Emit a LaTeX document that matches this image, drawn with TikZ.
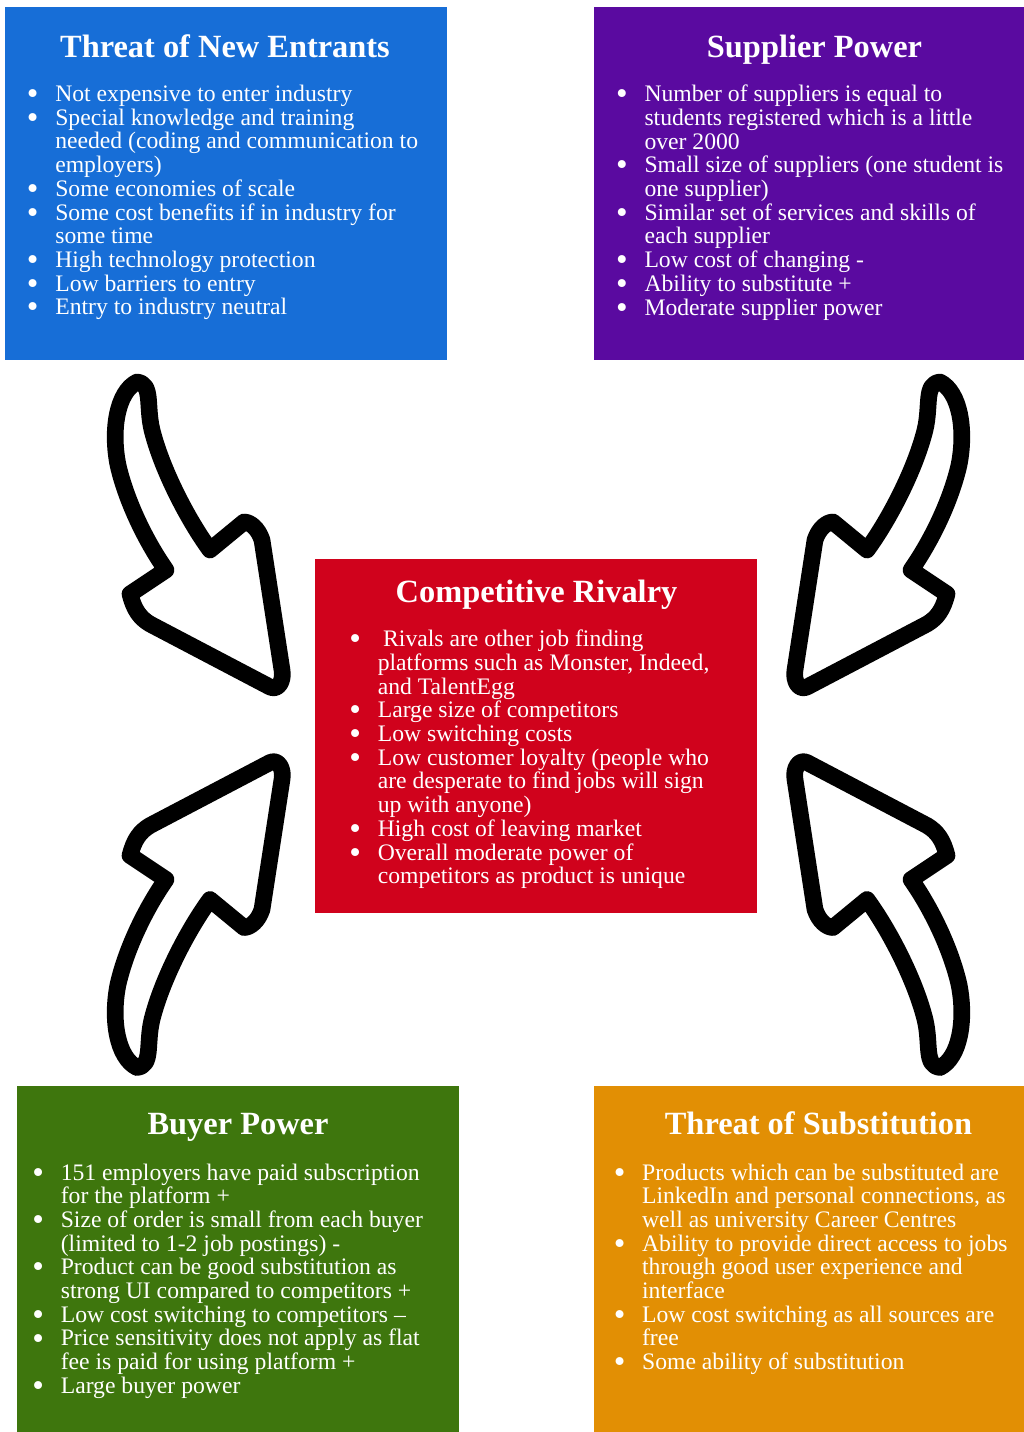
\documentclass[tikz,border=0pt]{standalone}
\usepackage{graphicx}
\usepackage{fontspec}
\setmainfont{Liberation Serif}

\definecolor{cBlue}{RGB}{23,110,215}
\definecolor{cPurple}{RGB}{90,10,160}
\definecolor{cRed}{RGB}{208,2,28}
\definecolor{cGreen}{RGB}{62,118,13}
\definecolor{cOrange}{RGB}{226,143,4}

% bulleted item with hanging indent; lines broken by hand with \nl
\newlength\bulhang
\newcommand{\nl}{\unskip\hfil\break}
\newcommand{\bigbullet}{\raisebox{-2.3pt}{\scalebox{1.4}{\textbullet}}}
\newcommand{\bul}[1]{\par\hangindent=\bulhang\hangafter=1\noindent
  \makebox[\bulhang][l]{\makebox[0pt]{\bigbullet}}#1\par}
% list block whose baseline is the first line's baseline
\newcommand{\bodylist}[1]{\vtop{\hsize=380pt\fontsize{17.75pt}{17.78pt}\selectfont
  \raggedright\parindent=0pt\parskip=0pt\bulhang=16.9pt #1}}

% hand-drawn block arrow, outline only
\newcommand{\sketcharrow}{%
  \draw[arrowline] (137,382)
    .. controls (117,392) and (111,430) .. (118,465)
    .. controls (126,500) and (145,540) .. (166,570)
    -- (130,594)
    .. controls (134,610) and (140,618) .. (150,624)
    -- (270,687)
    .. controls (278,691) and (284,681) .. (282,670)
    -- (262,540)
    .. controls (258,528) and (250,522) .. (244,522)
    -- (210,550)
    .. controls (188,520) and (162,470) .. (152,430)
    .. controls (146,405) and (153,384) .. (137,382) -- cycle;}

\begin{document}
\begin{tikzpicture}[x=0.75pt,y=-0.75pt,
  panel/.style={rectangle,draw=none,inner sep=0pt},
  paneltitle/.style={anchor=base,inner sep=0pt,text=white,
    font=\fontsize{24.3pt}{29pt}\selectfont\bfseries},
  panelbody/.style={anchor=base west,inner sep=0pt,text=white},
  arrowline/.style={draw=black,line width=12.5pt,line join=round,line cap=round,fill=white}]
\useasboundingbox (0,0) rectangle (1024,1432);
\fill[white] (0,0) rectangle (1024,1432);

% ---------- panels ----------
\node[panel,fill=cBlue,minimum width=331.5pt,minimum height=264.75pt] (entrants) at (226,183.5) {};
\node[panel,fill=cPurple,minimum width=322.5pt,minimum height=264.75pt] (supplier) at (809,183.5) {};
\node[panel,fill=cRed,minimum width=331.7pt,minimum height=265pt] (rivalry) at (536.2,736) {};
\node[panel,fill=cGreen,minimum width=331.5pt,minimum height=259.5pt] (buyer) at (238.3,1259) {};
\node[panel,fill=cOrange,minimum width=322.5pt,minimum height=259.5pt] (substitution) at (809,1259) {};

% ---------- Threat of New Entrants ----------
\node[paneltitle] (entrantsTitle) at (225,57) {Threat of New Entrants};
\node[panelbody] (entrantsList) at (32.5,101.5) {\bodylist{%
  \bul{Not expensive to enter industry}
  \bul{Special knowledge and training\nl needed (coding and communication to\nl employers)}
  \bul{Some economies of scale}
  \bul{Some cost benefits if in industry for\nl some time}
  \bul{High technology protection}
  \bul{Low barriers to entry}
  \bul{Entry to industry neutral}}};

% ---------- Supplier Power ----------
\node[paneltitle] (supplierTitle) at (814.5,57) {Supplier Power};
\node[panelbody] (supplierList) at (621.7,101.7) {\bodylist{%
  \bul{Number of suppliers is equal to\nl students registered which is a little\nl over 2000}
  \bul{Small size of suppliers (one student is\nl one supplier)}
  \bul{Similar set of services and skills of\nl each supplier}
  \bul{Low cost of changing -}
  \bul{Ability to substitute +}
  \bul{Moderate supplier power}}};

% ---------- Competitive Rivalry ----------
\node[paneltitle] (rivalryTitle) at (536.5,602.3) {Competitive Rivalry};
\node[panelbody] (rivalryList) at (355,646.7) {\bodylist{%
  \bul{\hspace{4pt}Rivals are other job finding\nl platforms such as Monster, Indeed,\nl and TalentEgg}
  \bul{Large size of competitors}
  \bul{Low switching costs}
  \bul{Low customer loyalty (people who\nl are desperate to find jobs will sign\nl up with anyone)}
  \bul{High cost of leaving market}
  \bul{Overall moderate power of\nl competitors as product is unique}}};

% ---------- Buyer Power ----------
\node[paneltitle] (buyerTitle) at (238,1134.3) {Buyer Power};
\node[panelbody] (buyerList) at (38,1180) {\bodylist{%
  \bul{151 employers have paid subscription\nl for the platform +}
  \bul{Size of order is small from each buyer\nl (limited to 1-2 job postings) -}
  \bul{Product can be good substitution as\nl strong UI compared to competitors +}
  \bul{Low cost switching to competitors –}
  \bul{Price sensitivity does not apply as flat\nl fee is paid for using platform +}
  \bul{Large buyer power}}};

% ---------- Threat of Substitution ----------
\node[paneltitle] (substitutionTitle) at (818.5,1134.3) {Threat of Substitution};
\node[panelbody] (substitutionList) at (619.3,1180) {\bodylist{%
  \bul{Products which can be substituted are\nl LinkedIn and personal connections, as\nl well as university Career Centres}
  \bul{Ability to provide direct access to jobs\nl through good user experience and\nl interface}
  \bul{Low cost switching as all sources are\nl free}
  \bul{Some ability of substitution}}};

% ---------- arrows pointing to the centre ----------
\begin{scope}
  \sketcharrow
\end{scope}
\begin{scope}[shift={(1077,0)},xscale=-1]
  \sketcharrow
\end{scope}
\begin{scope}[shift={(0,1449.5)},yscale=-1]
  \sketcharrow
\end{scope}
\begin{scope}[shift={(1077,1449.5)},xscale=-1,yscale=-1]
  \sketcharrow
\end{scope}
\end{tikzpicture}
\end{document}
